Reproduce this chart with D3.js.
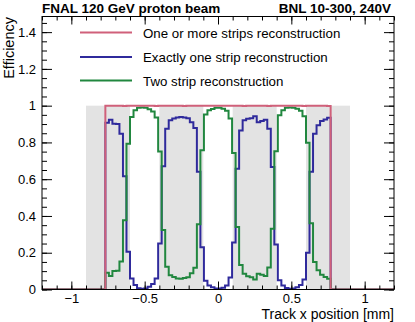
<!DOCTYPE html>
<html>
<head>
<meta charset="utf-8">
<script src="https://cdn.jsdelivr.net/npm/d3@7"></script>
<style>
  body { margin: 0; background: #fff; }
  text { font-family: "Liberation Sans", Arial, sans-serif; fill: #000; }
</style>
</head>
<body>
<div id="chart"></div>
<script>
// histogram binning (mm)
var binLo = -0.768;
var binW = 0.024;

var oneOrMore = [1.0, 1.0, 0.999, 1.0, 1.0, 0.998, 1.0, 1.0, 1.0, 1.0, 1.0, 0.999, 1.0, 1.0, 0.998, 1.0,
  1.0, 1.0, 0.999, 1.0, 1.0, 1.0, 0.998, 1.0, 1.0, 1.0, 1.0, 0.999, 1.0, 1.0, 1.0, 1.0,
  1.0, 1.0, 0.999, 1.0, 1.0, 1.0, 1.0, 0.998, 1.0, 1.0, 1.0, 0.999, 1.0, 1.0, 0.998, 1.0,
  1.0, 1.0, 1.0, 0.999, 1.0, 1.0, 1.0, 1.0, 0.998, 1.0, 1.0, 0.999, 1.0, 1.0, 1.0, 0.998];

var exactlyOne = [0.907, 0.923, 0.902, 0.900, 0.847, 0.616, 0.205, 0.060, 0.025, 0.007, 0.004, 0.006, 0.015, 0.030, 0.060, 0.250,
  0.670, 0.875, 0.920, 0.930, 0.935, 0.938, 0.935, 0.932, 0.910, 0.878, 0.640, 0.230, 0.048, 0.022, 0.012, 0.006,
  0.006, 0.010, 0.022, 0.065, 0.255, 0.657, 0.865, 0.920, 0.929, 0.932, 0.943, 0.910, 0.916, 0.923, 0.875, 0.666,
  0.245, 0.050, 0.022, 0.008, 0.004, 0.006, 0.012, 0.025, 0.055, 0.200, 0.640, 0.847, 0.893, 0.916, 0.925, 0.934];

var twoStrip = [0.091, 0.073, 0.100, 0.102, 0.152, 0.377, 0.793, 0.938, 0.975, 0.988, 0.990, 0.988, 0.980, 0.968, 0.936, 0.750,
  0.323, 0.124, 0.078, 0.068, 0.060, 0.058, 0.062, 0.066, 0.088, 0.118, 0.355, 0.757, 0.952, 0.975, 0.982, 0.988,
  0.988, 0.983, 0.972, 0.930, 0.742, 0.340, 0.133, 0.085, 0.072, 0.066, 0.055, 0.085, 0.080, 0.074, 0.120, 0.330,
  0.752, 0.948, 0.975, 0.988, 0.990, 0.988, 0.983, 0.972, 0.942, 0.798, 0.360, 0.150, 0.105, 0.080, 0.068, 0.058];

// shaded regions
var bandStart = [-0.9, -0.4, 0.1, 0.6];
var bandEnd = [-0.6, -0.1, 0.4, 0.9];

var xMajor = [-1, -0.5, 0, 0.5, 1];
var xMinor = [-1.2, -1.1, -1, -0.9, -0.8, -0.7, -0.6, -0.5, -0.4, -0.3, -0.2, -0.1, 0, 0.1, 0.2, 0.3, 0.4, 0.5, 0.6, 0.7, 0.8, 0.9, 1, 1.1, 1.2];
var yMajor = [0, 0.2, 0.4, 0.6, 0.8, 1, 1.2, 1.4];
var yMinor = [0, 0.05, 0.1, 0.15, 0.2, 0.25, 0.3, 0.35, 0.4, 0.45, 0.5, 0.55, 0.6, 0.65, 0.7, 0.75, 0.8, 0.85, 0.9, 0.95, 1, 1.05, 1.1, 1.15, 1.2, 1.25, 1.3, 1.35, 1.4, 1.45];

var seriesNames = ["One or more strips reconstruction", "Exactly one strip reconstruction", "Two strip reconstruction"];
var seriesColors = ["#d0607a", "#2f2a9c", "#21873f"];

var svgWidth = 415, svgHeight = 322;
var padL = 42, padR = 394, padT = 16.5, padB = 289.5;

var svg = d3.select("#chart").append("svg")
  .attr("width", svgWidth)
  .attr("height", svgHeight);

var x = d3.scaleLinear().domain([-1.2, 1.2]).range([padL, padR]);
var y = d3.scaleLinear().domain([0, 1.485]).range([padB, padT]);

svg.append("clipPath").attr("id", "clip")
  .append("rect").attr("x", padL).attr("y", padT).attr("width", padR - padL).attr("height", padB - padT);

// gray bands
svg.append("g").selectAll("rect")
  .data(bandStart)
  .enter().append("rect")
  .attr("x", d => x(d))
  .attr("width", (d, i) => x(bandEnd[i]) - x(d))
  .attr("y", y(1))
  .attr("height", y(0) - y(1))
  .attr("fill", "#e3e3e3");

// step histograms
function histPoints(vals) {
  var pts = [[-1.2, 0]];
  vals.forEach(function(v, i) { pts.push([binLo + i * binW, v]); });
  pts.push([binLo + vals.length * binW, 0]);
  pts.push([1.2, 0]);
  return pts;
}
var line = d3.line().x(d => x(d[0])).y(d => y(d[1])).curve(d3.curveStepAfter);

var plot = svg.append("g").attr("clip-path", "url(#clip)");
[exactlyOne, twoStrip, oneOrMore].forEach(function(vals, i) {
  var c = [1, 2, 0][i];
  plot.append("path")
    .attr("d", line(histPoints(vals)))
    .attr("fill", "none")
    .attr("stroke", seriesColors[c])
    .attr("stroke-width", 2);
});

// axes
function noLabels(g) { g.selectAll("text").remove(); g.select(".domain").remove(); }

svg.append("g").attr("transform", `translate(0,${padB})`)
  .call(d3.axisBottom(x).tickValues(xMinor).tickSize(-4).tickFormat("")).call(noLabels);
svg.append("g").attr("transform", `translate(0,${padT})`)
  .call(d3.axisTop(x).tickValues(xMinor).tickSize(-4).tickFormat("")).call(noLabels);
svg.append("g").attr("transform", `translate(0,${padT})`)
  .call(d3.axisTop(x).tickValues(xMajor).tickSize(-8)).call(noLabels);
svg.append("g").attr("transform", `translate(${padL},0)`)
  .call(d3.axisLeft(y).tickValues(yMinor).tickSize(-5).tickFormat("")).call(noLabels);
svg.append("g").attr("transform", `translate(${padR},0)`)
  .call(d3.axisRight(y).tickValues(yMinor).tickSize(-5).tickFormat("")).call(noLabels);
svg.append("g").attr("transform", `translate(${padR},0)`)
  .call(d3.axisRight(y).tickValues(yMajor).tickSize(-10)).call(noLabels);

var xAxis = svg.append("g").attr("transform", `translate(0,${padB})`)
  .call(d3.axisBottom(x).tickValues(xMajor).tickSize(-8).tickPadding(4).tickFormat(d3.format("")));
var yAxis = svg.append("g").attr("transform", `translate(${padL},0)`)
  .call(d3.axisLeft(y).tickValues(yMajor).tickSize(-10).tickPadding(6).tickFormat(d3.format("")));
[xAxis, yAxis].forEach(function(g) {
  g.select(".domain").remove();
  g.selectAll("text").style("font-size", "13px").attr("fill", "#000");
});
svg.selectAll(".tick line").attr("stroke", "#000");

svg.append("rect")
  .attr("x", padL).attr("y", padT)
  .attr("width", padR - padL).attr("height", padB - padT)
  .attr("fill", "none").attr("stroke", "#000").attr("stroke-width", 1);

// legend
var legY = [32.5, 57, 80.5];
var legend = svg.append("g");
seriesNames.forEach(function(name, i) {
  legend.append("line")
    .attr("x1", 80).attr("x2", 132)
    .attr("y1", legY[i]).attr("y2", legY[i])
    .attr("stroke", seriesColors[i]).attr("stroke-width", 2);
  legend.append("text")
    .attr("x", 143).attr("y", legY[i] + 5)
    .style("font-size", "13.3px")
    .text(name);
});

// titles
svg.append("text").attr("x", 42).attr("y", 12.5)
  .style("font-size", "13.5px").style("font-weight", "bold")
  .text("FNAL 120 GeV proton beam");
svg.append("text").attr("x", 391).attr("y", 12.5).attr("text-anchor", "end")
  .style("font-size", "13.5px").style("font-weight", "bold")
  .text("BNL 10-300, 240V");

svg.append("text")
  .attr("transform", "translate(14,17) rotate(-90)")
  .attr("text-anchor", "end")
  .style("font-size", "14.5px")
  .text("Efficiency");
svg.append("text")
  .attr("x", 394).attr("y", 319)
  .attr("text-anchor", "end")
  .style("font-size", "14px")
  .text("Track x position [mm]");
</script>
</body>
</html>
